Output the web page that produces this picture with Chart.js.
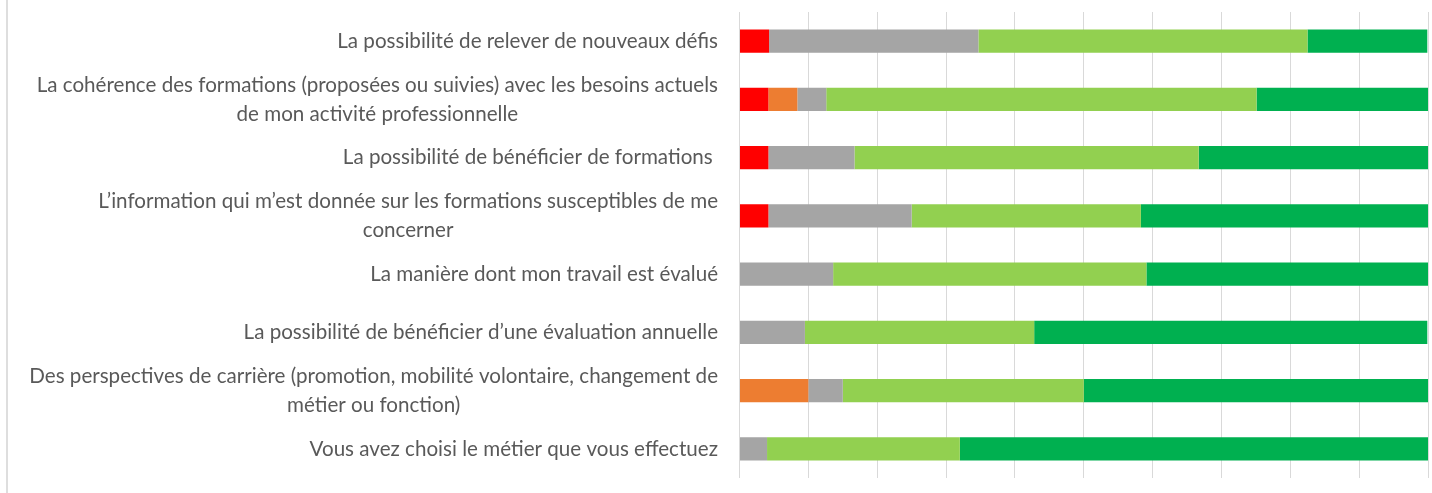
<!DOCTYPE html>
<html><head><meta charset="utf-8">
<script src="https://cdn.jsdelivr.net/npm/chart.js@4"></script>
<style>
html,body{margin:0;padding:0;background:#fff;}
#wrap{position:relative;width:1432px;height:493px;}
#edge{position:absolute;left:6px;top:0;width:2px;height:493px;background:#dedede;}
</style></head><body>
<div id="wrap"><canvas id="c"></canvas><div id="edge"></div></div>
<script>
const categories = [
  ["La possibilité de relever de nouveaux défis"],
  ["La cohérence des formations (proposées ou suivies) avec les besoins actuels", "de mon activité professionnelle"],
  ["La possibilité de bénéficier de formations "],
  ["L’information qui m’est donnée sur les formations susceptibles de me", "concerner"],
  ["La manière dont mon travail est évalué"],
  ["La possibilité de bénéficier d’une évaluation annuelle"],
  ["Des perspectives de carrière (promotion, mobilité volontaire, changement de", "métier ou fonction)"],
  ["Vous avez choisi le métier que vous effectuez"]
];
const seriesNames = ["Pas du tout satisfait", "Peu satisfait", "Sans avis", "Satisfait", "Très satisfait"];
const pasDuTout   = [4.3, 4.2, 4.2, 4.2, 0, 0, 0, 0];
const peu         = [0, 4.2, 0, 0, 0, 0, 10, 0];
const sansAvis    = [30.4, 4.2, 12.5, 20.8, 13.6, 9.5, 5, 4];
const satisfait   = [47.8, 62.5, 50, 33.3, 45.5, 33.3, 35, 28];
const tresSatis   = [17.4, 25, 33.3, 41.7, 40.9, 57.1, 50, 68];
const xTicks = [0, 10, 20, 30, 40, 50, 60, 70, 80, 90, 100];

const colors = ["#FF0000", "#ED7D31", "#A5A5A5", "#92D050", "#00B050"];
const FONT = "Lato, 'Open Sans', sans-serif";
const labelRight = 718;
const lineH = 29;

// fit font size to the widest label line
const mctx = document.createElement('canvas').getContext('2d');
mctx.font = "100px " + FONT;
const refW = mctx.measureText(categories[1][0]).width;
const fs = Math.round(100 * 683 / refW * 10) / 10;

const labelPlugin = {
  id: 'blockLabels',
  afterDraw(chart) {
    const y = chart.scales.y, ctx = chart.ctx;
    ctx.save();
    ctx.font = fs + "px " + FONT;
    ctx.fillStyle = '#595959';
    ctx.textAlign = 'center';
    ctx.textBaseline = 'middle';
    categories.forEach((lines, i) => {
      const w = Math.max(...lines.map(l => ctx.measureText(l).width));
      const cx = labelRight - w / 2;
      const cy = y.getPixelForValue(i);
      lines.forEach((l, j) => ctx.fillText(l, cx, cy + (j - (lines.length - 1) / 2) * lineH));
    });
    ctx.restore();
  }
};

const allSeries = [pasDuTout, peu, sansAvis, satisfait, tresSatis];
new Chart(document.getElementById('c'), {
  type: 'bar',
  data: {
    labels: categories,
    datasets: allSeries.map((d, k) => ({
      label: seriesNames[k], data: d, backgroundColor: colors[k],
      borderWidth: 0, barPercentage: 0.395, categoryPercentage: 1
    }))
  },
  options: {
    indexAxis: 'y',
    responsive: true, maintainAspectRatio: false, animation: false,
    layout: { padding: { top: 12, bottom: 15, right: 4, left: 0 } },
    plugins: { legend: { display: false }, tooltip: { enabled: false } },
    scales: {
      x: {
        stacked: true, min: 0, max: 100,
        afterBuildTicks: s => { s.ticks = xTicks.map(v => ({ value: v })); },
        ticks: { display: false },
        grid: { color: '#d9d9d9', lineWidth: 1, drawTicks: false },
        border: { display: false }
      },
      y: {
        stacked: true,
        ticks: { display: false },
        grid: { display: false },
        border: { display: false },
        afterFit: s => { s.width = 739.5; }
      }
    }
  },
  plugins: [labelPlugin]
});
</script>
</body></html>
